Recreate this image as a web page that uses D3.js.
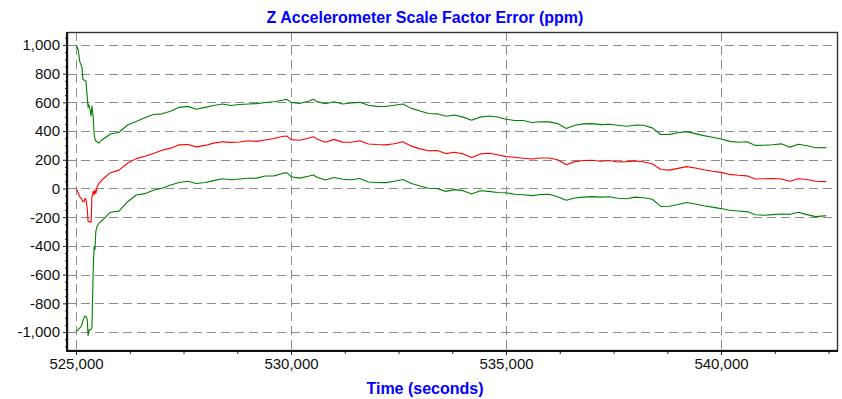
<!DOCTYPE html>
<html>
<head>
<meta charset="utf-8">
<script src="https://cdn.jsdelivr.net/npm/d3@7"></script>
<style>
  html, body { margin: 0; padding: 0; background: #fff; }
  svg { display: block; font-family: "Liberation Sans", Arial, Helvetica, sans-serif; }
</style>
</head>
<body>
<svg id="chart" width="842" height="399"></svg>
<script>
// ---------- DATA ----------
const chartTitle = "Z Accelerometer Scale Factor Error (ppm)";
const xAxisTitle = "Time (seconds)";

const xTickValues = [525000, 530000, 535000, 540000];
const yTickValues = [-1000, -800, -600, -400, -200, 0, 200, 400, 600, 800, 1000];

// time samples (seconds)
const times = [
  // start-up transient
  525000, 525020, 525050, 525070, 525090, 525120, 525140, 525160, 525190, 525210,
  525230, 525260, 525280, 525300, 525330, 525350, 525370, 525400, 525420, 525440,
  525460, 525490, 525510, 525530,
  // converged part
  525600, 525800, 526000, 526200, 526400, 526600, 526800, 527000, 527200, 527400,
  527600, 527800, 528000, 528200, 528400, 528600, 528800, 529000, 529200, 529400,
  529600, 529800, 529900, 530000, 530200, 530400, 530520, 530600, 530800, 531000,
  531200, 531400, 531600, 531800, 532000, 532200, 532400, 532600, 532800, 533000,
  533200, 533400, 533600, 533800, 534000, 534200, 534400, 534600, 534800, 535000,
  535200, 535400, 535600, 535800, 536000, 536200, 536400, 536600, 536800, 537000,
  537200, 537400, 537600, 537800, 538000, 538200, 538400, 538600, 538800, 539000,
  539200, 539400, 539600, 539800, 540000, 540200, 540400, 540600, 540800, 541000,
  541200, 541400, 541600, 541800, 542000, 542200, 542400, 542450
];

// upper bound (green)
const upperBound = [
  1000, 990, 965, 920, 880, 860, 840, 760, 755, 750,
  748, 640, 565, 583, 540, 505, 575, 500, 380, 345,
  330, 326, 320, 316,
  338, 380, 392, 442, 466, 492, 515, 520, 538, 565,
  572, 552, 565, 578, 588, 578, 585, 588, 591, 599,
  604, 615, 622, 600, 592, 608, 622, 605, 590, 604,
  588, 596, 600, 580, 572, 571, 580, 588, 558, 540,
  522, 520, 503, 512, 497, 475, 497, 505, 498, 482,
  474, 474, 460, 465, 464, 452, 418, 440, 450, 452,
  445, 447, 440, 434, 441, 440, 422, 376, 377, 388,
  396, 382, 368, 357, 345, 328, 322, 326, 300, 301,
  305, 311, 288, 308, 298, 284, 286, 282
];

// estimate (red)
const estimate = [
  0, -10, -30, -45, -60, -68, -80, -92, -90, -68,
  -75, -140, -230, -232, -230, -235, -60, -20, -45, -10,
  -34, 10, 24, 35,
  59, 110, 128, 176, 208, 225, 244, 266, 281, 304,
  306, 290, 300, 316, 325, 321, 324, 332, 328, 338,
  348, 362, 366, 340, 336, 350, 361, 345, 322, 342,
  323, 322, 332, 310, 306, 304, 312, 325, 295, 276,
  263, 264, 243, 252, 241, 215, 241, 245, 235, 222,
  218, 211, 205, 212, 212, 200, 166, 187, 195, 197,
  190, 195, 185, 187, 192, 185, 172, 132, 128, 140,
  152, 143, 130, 120, 112, 98, 92, 88, 66, 68,
  70, 66, 50, 68, 63, 50, 48, 47
];

// lower bound (green)
const lowerBound = [
  -1000, -990, -985, -975, -971, -960, -945, -920, -898, -888,
  -890, -910, -1025, -985, -985, -980, -970, -560, -405, -425,
  -300, -262, -255, -243,
  -225, -165, -158, -92, -45, -36, -12, 2, 24, 42,
  50, 35, 42, 55, 68, 61, 66, 71, 72, 87,
  88, 105, 110, 82, 72, 85, 94, 78, 59, 76,
  64, 61, 70, 45, 42, 41, 50, 62, 35, 17,
  2, 0, -20, -8, -15, -38, -16, -20, -28, -30,
  -40, -44, -50, -42, -40, -57, -82, -66, -60, -57,
  -60, -58, -68, -72, -60, -65, -75, -125, -124, -112,
  -98, -108, -120, -130, -140, -152, -157, -161, -183, -186,
  -182, -178, -180, -166, -182, -196, -191, -190
];

const seriesList = [
  { name: "upper", values: upperBound, color: "#008000" },
  { name: "lower", values: lowerBound, color: "#008000" },
  { name: "estimate", values: estimate, color: "#ff0000" }
];

// ---------- LAYOUT ----------
const W = 842, H = 399;
const plot = { left: 67, right: 838, top: 32, bottom: 351 };

const svg = d3.select("#chart");

const x = d3.scaleLinear().domain([524790, 542720]).range([plot.left, plot.right]);
const y = d3.scaleLinear().domain([-1132, 1090]).range([plot.bottom, plot.top]);

const locale = d3.formatLocale({ decimal: ".", thousands: ",", grouping: [3], currency: ["$", ""], minus: "-" });
const fmt = locale.format(",");

// plot background
svg.append("rect")
  .attr("x", plot.left).attr("y", plot.top)
  .attr("width", plot.right - plot.left).attr("height", plot.bottom - plot.top)
  .attr("fill", "#fff");

// grid lines
const grid = svg.append("g").attr("stroke", "#8c8c8c").attr("stroke-width", 1).attr("stroke-dasharray", "9,5");
grid.selectAll("line.h").data(yTickValues).join("line")
  .attr("class", "h")
  .attr("x1", plot.left).attr("x2", plot.right)
  .attr("y1", d => Math.round(y(d)) + 0.5).attr("y2", d => Math.round(y(d)) + 0.5);
grid.selectAll("line.v").data(xTickValues).join("line")
  .attr("class", "v")
  .attr("y1", plot.top).attr("y2", plot.bottom)
  .attr("x1", d => Math.round(x(d)) + 0.5).attr("x2", d => Math.round(x(d)) + 0.5);

// clip
svg.append("clipPath").attr("id", "clip")
  .append("rect")
  .attr("x", plot.left).attr("y", plot.top)
  .attr("width", plot.right - plot.left).attr("height", plot.bottom - plot.top);

const line = d3.line()
  .x((d, i) => x(times[i]))
  .y(d => y(d));

svg.append("g").attr("clip-path", "url(#clip)")
  .selectAll("path").data(seriesList).join("path")
  .attr("fill", "none")
  .attr("stroke", d => d.color)
  .attr("stroke-width", 1.1)
  .attr("stroke-linejoin", "round")
  .attr("d", d => line(d.values));

// frame
svg.append("rect")
  .attr("x", plot.left + 0.5).attr("y", plot.top + 0.5)
  .attr("width", plot.right - plot.left - 1).attr("height", plot.bottom - plot.top - 1)
  .attr("fill", "none").attr("stroke", "#333").attr("stroke-width", 1.4);

// Y axis
const yMinor = d3.range(-1100, 1100, 50).filter(v => v % 200 !== 0);
const yAxis = svg.append("g").attr("transform", `translate(${plot.left},0)`)
  .call(d3.axisLeft(y).tickValues(yTickValues).tickFormat(fmt).tickSize(4).tickPadding(3));
const yAxisMinor = svg.append("g").attr("transform", `translate(${plot.left},0)`)
  .call(d3.axisLeft(y).tickValues(yMinor).tickFormat("").tickSize(2));

// X axis
const xMinor = d3.range(525000 - 1250, 542720, 1250).filter(v => v % 5000 !== 0 && v > 524790);
const xAxis = svg.append("g").attr("transform", `translate(0,${plot.bottom})`)
  .call(d3.axisBottom(x).tickValues(xTickValues).tickFormat(fmt).tickSize(4).tickPadding(3));
const xAxisMinor = svg.append("g").attr("transform", `translate(0,${plot.bottom})`)
  .call(d3.axisBottom(x).tickValues(xMinor).tickFormat("").tickSize(3));

[yAxis, yAxisMinor, xAxis, xAxisMinor].forEach(g => {
  g.select(".domain").remove();
  g.selectAll(".tick line").attr("stroke", "#222");
  g.selectAll("text").attr("fill", "#111").attr("font-size", 15)
    .attr("font-family", "'Liberation Sans', Arial, sans-serif");
});

// axis lines (thicker left & bottom)
svg.append("line")
  .attr("x1", plot.left).attr("x2", plot.left)
  .attr("y1", plot.top).attr("y2", plot.bottom + 1)
  .attr("stroke", "#111").attr("stroke-width", 2);
svg.append("line")
  .attr("x1", plot.left - 1).attr("x2", plot.right)
  .attr("y1", plot.bottom).attr("y2", plot.bottom)
  .attr("stroke", "#111").attr("stroke-width", 2);

// titles
svg.append("text")
  .attr("x", 425).attr("y", 23)
  .attr("text-anchor", "middle")
  .attr("font-size", 16).attr("font-weight", "bold")
  .attr("fill", "#0000ff")
  .text(chartTitle);

svg.append("text")
  .attr("x", 425).attr("y", 394)
  .attr("text-anchor", "middle")
  .attr("font-size", 16).attr("font-weight", "bold")
  .attr("fill", "#0000ff")
  .text(xAxisTitle);
</script>
</body>
</html>
